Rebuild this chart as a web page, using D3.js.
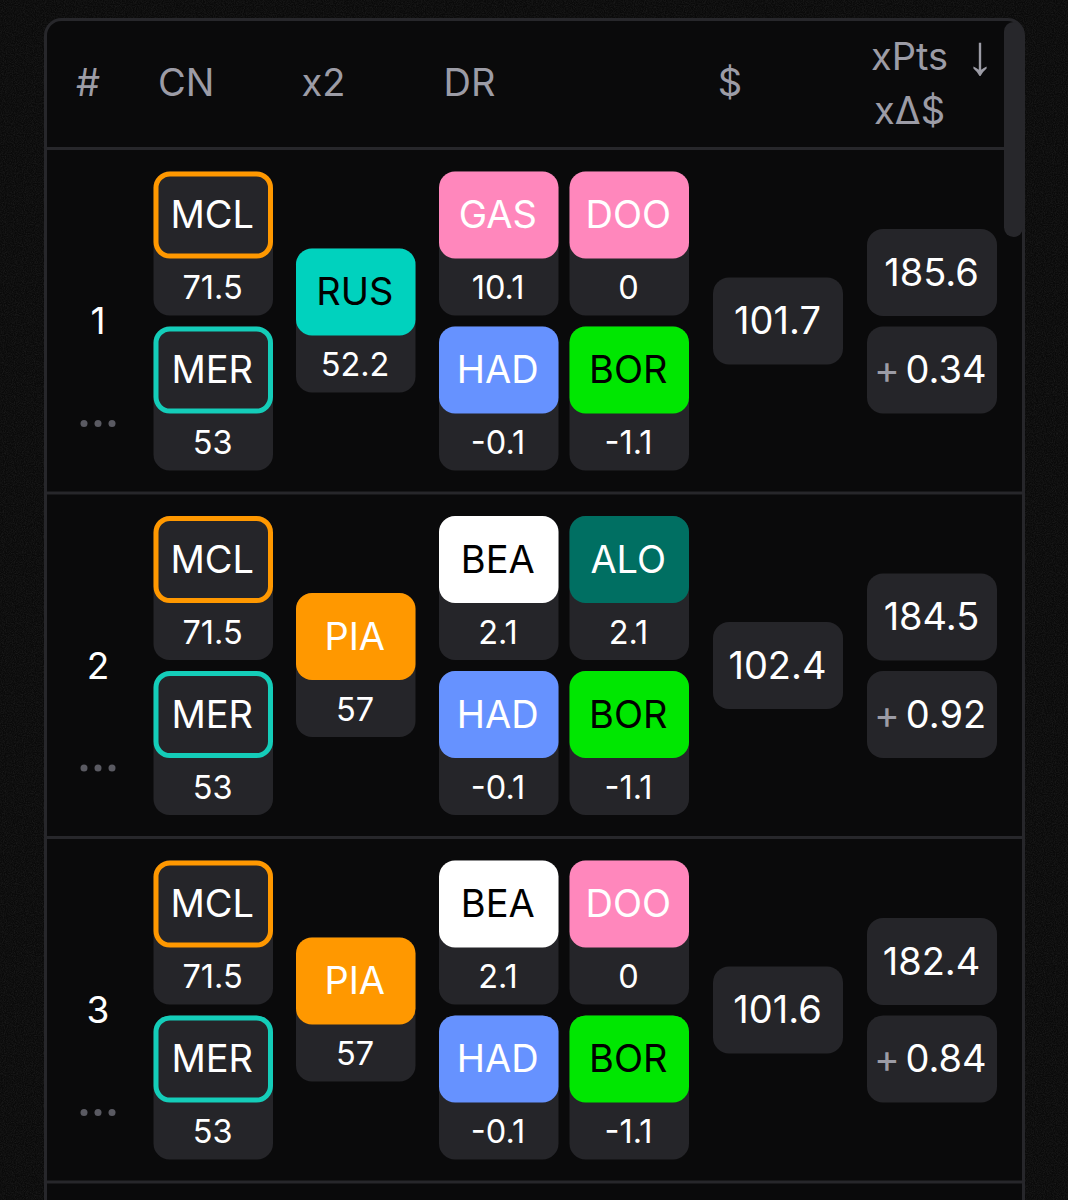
<!DOCTYPE html>
<html>
<head>
<meta charset="utf-8">
<script src="https://d3js.org/d3.v7.min.js"></script>
<style>
  html, body { margin: 0; padding: 0; background: #0a0a0a; }
  svg { display: block; }
  text { font-family: Inter, "Noto Sans", sans-serif; }
</style>
</head>
<body>
<svg id="chart"></svg>
<script>
var rowNumbers = ['1', '2', '3']
var columnHeaders = ['#', 'CN', 'x2', 'DR', '$']

// picks per row
var cnTop = ['MCL', 'MCL', 'MCL']
var cnTopValues = ['71.5', '71.5', '71.5']
var cnBottom = ['MER', 'MER', 'MER']
var cnBottomValues = ['53', '53', '53']
var x2Picks = ['RUS', 'PIA', 'PIA']
var x2Values = ['52.2', '57', '57']
var drTopLeft = ['GAS', 'BEA', 'BEA']
var drTopLeftValues = ['10.1', '2.1', '2.1']
var drTopRight = ['DOO', 'ALO', 'DOO']
var drTopRightValues = ['0', '2.1', '0']
var drBottomLeft = ['HAD', 'HAD', 'HAD']
var drBottomLeftValues = ['-0.1', '-0.1', '-0.1']
var drBottomRight = ['BOR', 'BOR', 'BOR']
var drBottomRightValues = ['-1.1', '-1.1', '-1.1']
var prices = ['101.7', '102.4', '101.6']
var xPts = ['185.6', '184.5', '182.4']
var xDelta = ['0.34', '0.92', '0.84']

var driverCodes = ['GAS', 'DOO', 'HAD', 'BOR', 'BEA', 'ALO', 'RUS', 'PIA']
var driverFills = ['#ff87bc', '#ff87bc', '#6692ff', '#00e701', '#ffffff', '#006f62', '#00d2be', '#ff9800']
var driverText = ['#ffffff', '#ffffff', '#ffffff', '#000000', '#000000', '#ffffff', '#000000', '#ffffff']
var constructorCodes = ['MCL', 'MER']
var constructorStrokes = ['#ff9800', '#14cdb9']

var width = 1068
var height = 1200
var tileFill = '#252529'
var lineColor = '#27272b'
var mutedText = '#9c9ca6'

var svg = d3.select('#chart').attr('width', width).attr('height', height)
  .attr('viewBox', '0 0 ' + width + ' ' + height)

var fillOf = d3.scaleOrdinal().domain(driverCodes).range(driverFills)
var textOf = d3.scaleOrdinal().domain(driverCodes).range(driverText)
var strokeOf = d3.scaleOrdinal().domain(constructorCodes).range(constructorStrokes)

// one band per row, 344.5px tall, starting under the header
var rowScale = d3.scaleBand().domain(rowNumbers).range([148.5, 148.5 + 344.5 * 3])

// faint grain on the page behind the card
var grain = svg.append('defs').append('filter').attr('id', 'grain')
  .attr('x', 0).attr('y', 0).attr('width', '100%').attr('height', '100%')
grain.append('feTurbulence').attr('type', 'fractalNoise')
  .attr('baseFrequency', 0.9).attr('numOctaves', 2).attr('seed', 4)
grain.append('feColorMatrix').attr('type', 'matrix')
  .attr('values', '0 0 0 0 1  0 0 0 0 1  0 0 0 0 1  0.12 0 0 0 -0.04')
svg.append('rect').attr('width', width).attr('height', height)
  .attr('filter', 'url(#grain)')

// card
svg.append('rect')
  .attr('x', 45.5).attr('y', 19.5)
  .attr('width', 978).attr('height', 1300)
  .attr('rx', 16)
  .attr('fill', '#0a0a0b')
  .attr('stroke', lineColor).attr('stroke-width', 3)

// header
function headerText(x, y, t, anchor) {
  return svg.append('text')
    .attr('x', x).attr('y', y)
    .attr('text-anchor', anchor || 'start')
    .attr('font-size', 38)
    .attr('fill', mutedText)
    .text(t)
}
var headerX = [88, 158, 301.5, 443.5, 730]
var headerAnchor = ['middle', 'start', 'start', 'start', 'middle']
columnHeaders.forEach(function (h, i) {
  headerText(headerX[i], 96, h, headerAnchor[i])
})
headerText(871, 70, 'xPts')
headerText(874, 124, 'xΔ$')
headerText(980, 74, '↓', 'middle')
  .style('font-family', '"Liberation Sans", sans-serif')
  .attr('font-size', 56)

// row dividers
svg.append('g').selectAll('line')
  .data(rowNumbers.concat(['end']))
  .enter().append('line')
  .attr('x1', 46).attr('x2', 1024)
  .attr('y1', function (d, i) { return 148.5 + i * rowScale.bandwidth() })
  .attr('y2', function (d, i) { return 148.5 + i * rowScale.bandwidth() })
  .attr('stroke', lineColor).attr('stroke-width', 3)

// scrollbar
svg.append('rect')
  .attr('x', 1004).attr('y', 22).attr('width', 19).attr('height', 215)
  .attr('rx', 9.5).attr('fill', '#27272b')

function label(g, x, y, t, size, color) {
  return g.append('text')
    .attr('x', x).attr('y', y)
    .attr('text-anchor', 'middle')
    .attr('dominant-baseline', 'central')
    .attr('font-size', size)
    .attr('fill', color)
    .text(t)
}

// coloured tile with the value box hanging below
function pick(g, x, y, code, value, outlined) {
  var w = 119.5
  g.append('rect')
    .attr('x', x).attr('y', y).attr('width', w).attr('height', 144)
    .attr('rx', 16).attr('fill', tileFill)
  if (outlined) {
    g.append('rect')
      .attr('x', x + 2.5).attr('y', y + 2.5).attr('width', w - 5).attr('height', 82)
      .attr('rx', 14).attr('fill', tileFill)
      .attr('stroke', strokeOf(code)).attr('stroke-width', 5)
  } else {
    g.append('rect')
      .attr('x', x).attr('y', y).attr('width', w).attr('height', 87)
      .attr('rx', 16).attr('fill', fillOf(code))
  }
  label(g, x + w / 2 - 1, y + 42.5, code, 38, outlined ? '#ffffff' : textOf(code))
  label(g, x + w / 2 - 0.7, y + 116, value, 32.5, '#ffffff')
}

function statBox(g, x, y, w, text) {
  g.append('rect')
    .attr('x', x).attr('y', y).attr('width', w).attr('height', 87)
    .attr('rx', 16).attr('fill', tileFill)
  label(g, x + w / 2 - 0.5, y + 42.5, text, 38, '#ffffff')
}

rowNumbers.forEach(function (n, i) {
  var top = rowScale(n)
  var g = svg.append('g').attr('class', 'row')

  label(g, 98, top + 172, n, 37, '#ffffff')
  g.selectAll('circle').data([84, 98, 112]).enter().append('circle')
    .attr('cx', function (d) { return d })
    .attr('cy', top + 275)
    .attr('r', 3.5)
    .attr('fill', '#5a5a62')

  pick(g, 153.5, top + 23, cnTop[i], cnTopValues[i], true)
  pick(g, 153.5, top + 178, cnBottom[i], cnBottomValues[i], true)
  pick(g, 296, top + 100, x2Picks[i], x2Values[i], false)
  pick(g, 439, top + 23, drTopLeft[i], drTopLeftValues[i], false)
  pick(g, 569.5, top + 23, drTopRight[i], drTopRightValues[i], false)
  pick(g, 439, top + 178, drBottomLeft[i], drBottomLeftValues[i], false)
  pick(g, 569.5, top + 178, drBottomRight[i], drBottomRightValues[i], false)

  statBox(g, 713, top + 129, 130, prices[i])
  statBox(g, 867, top + 80.5, 130, xPts[i])

  // delta box has a muted plus in front of the number
  g.append('rect')
    .attr('x', 867).attr('y', top + 178).attr('width', 130).attr('height', 87)
    .attr('rx', 16).attr('fill', tileFill)
  label(g, 887, top + 221, '+', 39, mutedText)
  label(g, 946, top + 220.5, xDelta[i], 38, '#ffffff')
})
</script>
</body>
</html>
